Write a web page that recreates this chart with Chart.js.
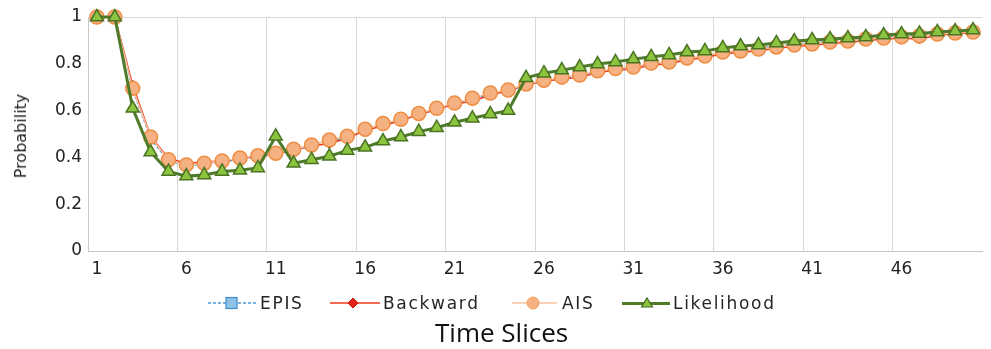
<!DOCTYPE html>
<html><head><meta charset="utf-8">
<script src="https://cdn.jsdelivr.net/npm/chart.js@4.4.1/dist/chart.umd.min.js"></script>
<style>
html,body{margin:0;padding:0;background:#fff;}
#wrap{position:relative;width:991px;height:349px;overflow:hidden;background:#fff;}
#cbox{position:absolute;left:0;top:0;width:991px;height:349px;}
.leg{position:absolute;top:295px;height:16px;display:flex;align-items:center;font-family:"DejaVu Sans";font-size:17px;line-height:16px;letter-spacing:1.7px;color:#262626;white-space:nowrap;}
.leg svg{display:block;}
#xt{position:absolute;left:435px;top:319px;font-family:"Open Sans";font-size:26px;line-height:26px;color:#111;white-space:nowrap;}
#yt{position:absolute;left:21px;top:136px;transform:translate(-50%,-50%) rotate(-90deg);font-family:"DejaVu Sans";font-size:16px;line-height:16px;color:#222;white-space:nowrap;}
</style>
</head><body>
<div id="wrap">
  <div id="cbox"><canvas id="c"></canvas></div>
  <div id="yt">Probability</div>
  <div class="leg" style="left:208px">
    <svg width="49" height="14"><line x1="0" y1="7" x2="49" y2="7" stroke="#4A9BDA" stroke-width="1.5" stroke-dasharray="3 2"/><rect x="18" y="1.5" width="11" height="11" fill="#8FC3E7" stroke="#3F8CCB" stroke-width="1.2"/></svg>
    <span style="margin-left:3px">EPIS</span>
  </div>
  <div class="leg" style="left:330px">
    <svg width="50" height="14"><line x1="0" y1="7" x2="50" y2="7" stroke="#F2381E" stroke-width="1.5"/><polygon points="23,2 28,7 23,12 18,7" fill="#E3231A" stroke="#C0150F" stroke-width="1"/></svg>
    <span style="margin-left:3px">Backward</span>
  </div>
  <div class="leg" style="left:512px">
    <svg width="45" height="14"><line x1="0" y1="7" x2="45" y2="7" stroke="#F7C39E" stroke-width="1.5"/><circle cx="21" cy="7" r="6" fill="#F6B183" stroke="#F19E5C" stroke-width="1"/></svg>
    <span style="margin-left:5px">AIS</span>
  </div>
  <div class="leg" style="left:622px">
    <svg width="48" height="14"><line x1="0" y1="7.5" x2="48" y2="7.5" stroke="#4E7B2A" stroke-width="3"/><polygon points="25,2 30.5,11 19.5,11" fill="#8CC43F" stroke="#3D6A1E" stroke-width="1.2"/></svg>
    <span style="margin-left:3px">Likelihood</span>
  </div>
  <div id="xt">Time Slices</div>
</div>
<script>
const categories = ['1','2','3','4','5','6','7','8','9','10','11','12','13','14','15','16','17','18','19','20','21','22','23','24','25','26','27','28','29','30','31','32','33','34','35','36','37','38','39','40','41','42','43','44','45','46','47','48','49','50'];
const xShownTicks = ['1','6','11','16','21','26','31','36','41','46'];
const yTickLabels = ['0','0.2','0.4','0.6','0.8','1'];

const epis = [1,1,0.69,0.48,0.385,0.365,0.37,0.38,0.392,0.402,0.415,0.43,0.447,0.468,0.485,0.515,0.54,0.558,0.583,0.605,0.627,0.648,0.67,0.683,0.709,0.726,0.739,0.748,0.766,0.776,0.782,0.799,0.804,0.821,0.829,0.846,0.851,0.867,0.876,0.884,0.889,0.897,0.901,0.91,0.914,0.919,0.923,0.931,0.936,0.94];
const backward = [1,1,0.71,0.49,0.395,0.375,0.38,0.385,0.395,0.405,0.415,0.432,0.45,0.458,0.483,0.515,0.535,0.558,0.583,0.605,0.628,0.64,0.667,0.685,0.71,0.725,0.735,0.742,0.762,0.773,0.778,0.795,0.8,0.817,0.826,0.843,0.848,0.856,0.866,0.874,0.879,0.887,0.891,0.9,0.905,0.91,0.905,0.922,0.928,0.933];
const ais = [1,1,0.695,0.487,0.39,0.368,0.375,0.385,0.397,0.407,0.418,0.435,0.453,0.474,0.49,0.52,0.545,0.563,0.588,0.61,0.632,0.653,0.675,0.688,0.714,0.73,0.743,0.752,0.77,0.78,0.786,0.803,0.808,0.825,0.833,0.85,0.855,0.863,0.872,0.88,0.885,0.893,0.897,0.906,0.91,0.915,0.919,0.927,0.932,0.936];
const likelihood = [1,1,0.61,0.423,0.34,0.32,0.325,0.34,0.345,0.355,0.49,0.375,0.39,0.405,0.43,0.443,0.47,0.487,0.51,0.527,0.55,0.567,0.585,0.6,0.74,0.76,0.773,0.786,0.799,0.808,0.82,0.83,0.838,0.85,0.855,0.868,0.876,0.88,0.889,0.897,0.902,0.906,0.91,0.915,0.923,0.927,0.93,0.936,0.94,0.944];

new Chart(document.getElementById('c'), {
  type: 'line',
  data: {
    labels: categories,
    datasets: [
      { label: 'EPIS', data: epis, order: 3, clip: false,
        borderColor: '#4A9BDA', borderWidth: 1.5, borderDash: [3, 2],
        pointStyle: 'rect', pointRadius: 5, pointBackgroundColor: '#8FC3E7',
        pointBorderColor: '#3F8CCB', pointBorderWidth: 1, tension: 0 },
      { label: 'Backward', data: backward, order: 2, clip: false,
        borderColor: '#F2381E', borderWidth: 1.5,
        pointStyle: 'rectRot', pointRadius: 4.5, pointBackgroundColor: '#9E170E',
        pointBorderColor: '#2A0400', pointBorderWidth: 1, tension: 0 },
      { label: 'AIS', data: ais, order: 1, clip: false,
        borderColor: '#F7C39E', borderWidth: 1.5,
        pointStyle: 'circle', pointRadius: 7, pointBackgroundColor: '#F6B183',
        pointBorderColor: '#EE8E43', pointBorderWidth: 1.5, tension: 0 },
      { label: 'Likelihood', data: likelihood, order: 0, clip: false,
        borderColor: '#4E7B2A', borderWidth: 3,
        pointStyle: 'triangle', pointRadius: 7.5, pointBackgroundColor: '#8CC43F',
        pointBorderColor: '#4A7324', pointBorderWidth: 1.5, tension: 0 }
    ]
  },
  options: {
    responsive: true,
    maintainAspectRatio: false,
    animation: false,
    devicePixelRatio: 1,
    layout: { padding: { top: 17, right: 3, left: 0, bottom: 0 } },
    plugins: { legend: { display: false }, tooltip: { enabled: false }, title: { display: false } },
    scales: {
      x: {
        type: 'category',
        offset: true,
        afterFit(s) { s.height = 98; },
        grid: {
          offset: true,
          drawTicks: false,
          tickLength: 0,
          lineWidth: 1,
          color(ctx) {
            const i = ctx.index;
            return (i > 0 && i < categories.length && xShownTicks.includes(categories[i])) ? '#d9d9d9' : 'rgba(0,0,0,0)';
          }
        },
        border: { display: true, color: '#c6c6c6', width: 1 },
        ticks: {
          autoSkip: false, maxRotation: 0, minRotation: 0, padding: 8,
          color: '#222', font: { family: 'DejaVu Sans', size: 17 },
          callback(v, i) { return xShownTicks.includes(categories[i]) ? categories[i] : ''; }
        }
      },
      y: {
        min: 0, max: 1,
        afterFit(s) { s.width = 88; },
        grid: {
          drawTicks: false, tickLength: 0,
          color(ctx) { return (ctx.tick && Math.abs(ctx.tick.value - 1) < 1e-9) ? '#d9d9d9' : 'rgba(0,0,0,0)'; }
        },
        border: { display: true, color: '#c6c6c6', width: 1 },
        ticks: {
          stepSize: 0.2, padding: 6, color: '#222',
          font: { family: 'DejaVu Sans', size: 17 },
          callback(v) { return yTickLabels[Math.round(v * 5)]; }
        }
      }
    }
  }
});
</script>
</body></html>
